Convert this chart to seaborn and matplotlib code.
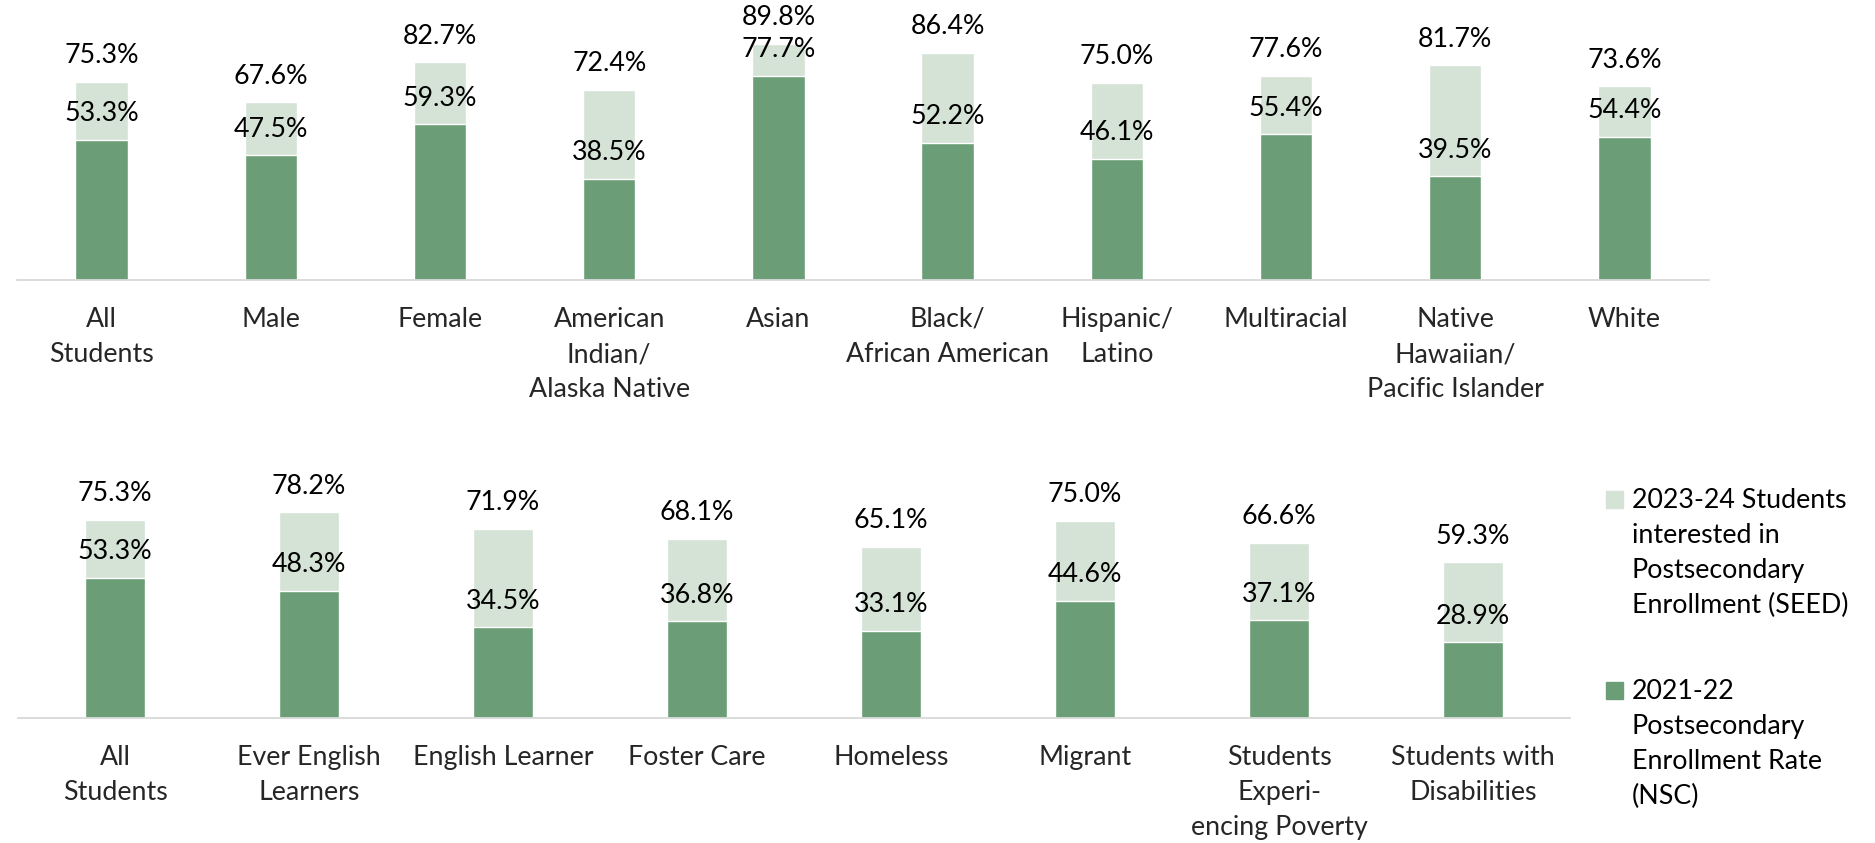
import matplotlib
matplotlib.use("Agg")
import matplotlib.pyplot as plt
import seaborn as sns
import numpy as np
from matplotlib.patches import Rectangle
from matplotlib.font_manager import FontProperties

# Student groups and rates (%)
top_groups = ["All\nStudents", "Male", "Female", "American\nIndian/\nAlaska Native",
              "Asian", "Black/\nAfrican American", "Hispanic/\nLatino", "Multiracial",
              "Native\nHawaiian/\nPacific Islander", "White"]
top_seed = [75.3, 67.6, 82.7, 72.4, 89.8, 86.4, 75.0, 77.6, 81.7, 73.6]
top_nsc = [53.3, 47.5, 59.3, 38.5, 77.7, 52.2, 46.1, 55.4, 39.5, 54.4]

bottom_groups = ["All\nStudents", "Ever English\nLearners", "English Learner", "Foster Care",
                 "Homeless", "Migrant", "Students\nExperi-\nencing Poverty",
                 "Students with\nDisabilities"]
bottom_seed = [75.3, 78.2, 71.9, 68.1, 65.1, 75.0, 66.6, 59.3]
bottom_nsc = [53.3, 48.3, 34.5, 36.8, 33.1, 44.6, 37.1, 28.9]

seed_label = ["2023-24 Students", "interested in", "Postsecondary", "Enrollment (SEED)"]
nsc_label = ["2021-22", "Postsecondary", "Enrollment Rate", "(NSC)"]

LIGHT = "#D4E3D5"
DARK = "#6B9E77"
AXIS = "#D9D9D9"
FAMILY = ["Lato", "DejaVu Sans"]
FS = 19.3
LINE_PX = 35      # distance between text baselines
LABEL_DROP = 47   # axis line to first tick-label baseline

sns.set_theme(style="white")
plt.rcParams["font.family"] = FAMILY
plt.rcParams["text.color"] = "#000000"

W, H = 1875, 843
DPI = 100
fig = plt.figure(figsize=(W / DPI, H / DPI), dpi=DPI)

# derive line spacing and tick pad from the font's own metrics
renderer = fig.canvas.get_renderer()
_, lp_h, lp_d = renderer.get_text_width_height_descent(
    "lp", FontProperties(family=FAMILY, size=FS), ismath=False)
LS = (LINE_PX - lp_d) / (lp_h - lp_d)
PAD = (LABEL_DROP - (lp_h - lp_d)) * 72 / DPI


def panel(rect, groups, seed, nsc):
    ax = fig.add_axes(rect)
    sns.barplot(x=groups, y=seed, color=LIGHT, saturation=1, width=0.31, ax=ax)
    sns.barplot(x=groups, y=nsc, color=DARK, saturation=1, width=0.31, ax=ax)
    ax.set_ylim(0, 100)
    ax.set_xlim(-0.5, len(groups) - 0.5)
    for i, (s, n) in enumerate(zip(seed, nsc)):
        for v in (s, n):
            ax.annotate(f"{v:.1f}%", (i, v), xytext=(0, 13.3), textcoords="offset points",
                        ha="center", va="baseline", fontsize=FS, annotation_clip=False)
    for side in ("left", "right", "top"):
        ax.spines[side].set_visible(False)
    ax.spines["bottom"].set_color(AXIS)
    ax.spines["bottom"].set_linewidth(1.3)
    ax.set_yticks([])
    ax.set_xticks(np.arange(-0.5, len(groups)), minor=True)
    ax.tick_params(axis="x", which="minor", length=6.5, width=1.3, color=AXIS, direction="out")
    ax.tick_params(axis="x", which="major", length=0, pad=PAD, labelsize=FS)
    for t in ax.get_xticklabels():
        t.set_linespacing(LS)
    ax.set_xlabel("")
    ax.set_ylabel("")
    return ax


panel([17 / W, (H - 280) / H, (1709 - 17) / W, 263 / H], top_groups, top_seed, top_nsc)
panel([18 / W, (H - 718) / H, (1570 - 18) / W, 263 / H], bottom_groups, bottom_seed, bottom_nsc)

# Legend: square swatch beside the first line of each entry
for color, lines, base in ((LIGHT, seed_label, 508), (DARK, nsc_label, 699)):
    fig.patches.append(Rectangle((1606 / W, (H - base) / H), 17 / W, 17 / H,
                                 transform=fig.transFigure, color=color))
    for k, line in enumerate(lines):
        fig.text(1632 / W, (H - base - k * LINE_PX) / H, line, ha="left", va="baseline",
                 fontsize=FS)

fig.savefig("out.png", dpi=DPI, facecolor="white")
